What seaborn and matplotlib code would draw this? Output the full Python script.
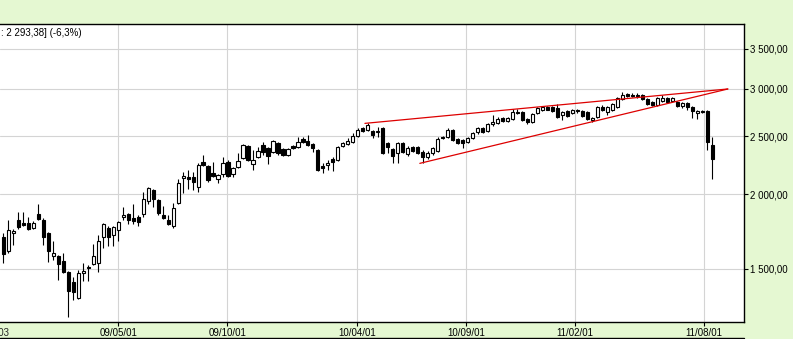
import numpy as np
import pandas as pd
import matplotlib
matplotlib.use("Agg")
import matplotlib.pyplot as plt
import matplotlib.dates as mdates
from matplotlib.lines import Line2D
from matplotlib.ticker import FixedLocator, FixedFormatter, NullLocator
import seaborn as sns

# ---------------- data (weekly candles) ----------------
first_week = "2008-11-21"
opens = [1696,1608,1723,1812,1791,1791,1756,1854,1812,1723,
         1577,1577,1547,1483,1427,1341,1477,1506,1529,1535,
         1696,1756,1709,1743,1833,1854,1826,1833,1854,1948,
         2033,1956,1847,1812,1770,1934,2128,2137,2137,2056,
         2264,2229,2170,2121,2162,2264,2162,2220,2300,2408,
         2247,2309,2417,2391,2354,2437,2380,2327,2408,2398,
         2475,2456,2427,2372,2229,2238,2291,2282,2408,2427,
         2446,2505,2582,2562,2552,2542,2582,2437,2380,2345,
         2437,2336,2398,2398,2354,2309,2345,2363,2495,2495,
         2562,2475,2465,2446,2485,2542,2582,2552,2621,2631,
         2683,2651,2672,2746,2746,2672,2641,2735,2767,2799,
         2799,2788,2714,2757,2735,2767,2757,2746,2662,2693,
         2798,2746,2767,2798,2885,2942,2931,2931,2931,2885,
         2854,2820,2865,2896,2865,2854,2809,2843,2798,2735,
         2757,2757,2417]
highs = [1723,1812,1749,1869,1869,1833,1805,1926,1826,1729,
         1670,1583,1595,1488,1454,1494,1535,1523,1651,1709,
         1791,1770,1770,1805,1904,1862,1926,1847,2017,2056,
         2040,1964,1911,1847,1934,2121,2179,2196,2179,2256,
         2326,2238,2264,2162,2308,2282,2220,2345,2427,2417,
         2372,2398,2446,2398,2465,2446,2389,2389,2417,2495,
         2495,2515,2437,2380,2256,2282,2309,2408,2446,2485,
         2532,2582,2592,2631,2562,2592,2592,2446,2389,2446,
         2446,2408,2408,2408,2372,2363,2398,2495,2505,2582,
         2572,2485,2475,2495,2542,2592,2592,2631,2714,2693,
         2693,2693,2778,2778,2757,2683,2735,2799,2810,2810,
         2810,2832,2757,2767,2778,2778,2767,2757,2693,2809,
         2820,2809,2843,2908,2965,2954,2954,2954,2942,2896,
         2865,2908,2931,2908,2908,2865,2854,2854,2809,2767,
         2767,2767,2495]
lows = [1535,1595,1645,1749,1770,1743,1749,1812,1645,1541,
        1553,1438,1477,1247,1331,1336,1432,1432,1523,1483,
        1626,1638,1638,1670,1812,1784,1784,1770,1833,1926,
        1904,1847,1819,1777,1756,1926,2010,2040,2033,2017,
        2229,2097,2137,2089,2137,2137,2137,2212,2291,2273,
        2196,2300,2327,2247,2345,2327,2318,2318,2380,2389,
        2437,2408,2354,2188,2170,2196,2188,2273,2398,2417,
        2437,2495,2542,2552,2485,2495,2336,2345,2256,2256,
        2345,2318,2354,2336,2256,2291,2327,2354,2475,2485,
        2456,2427,2389,2437,2475,2522,2532,2542,2601,2621,
        2641,2641,2662,2725,2651,2621,2631,2725,2757,2767,
        2746,2683,2662,2693,2725,2735,2693,2662,2641,2683,
        2757,2714,2757,2788,2876,2908,2908,2896,2876,2820,
        2809,2809,2854,2843,2854,2798,2788,2767,2683,2672,
        2735,2372,2121]
closes = [1589,1743,1736,1763,1777,1749,1791,1819,1696,1608,
          1595,1529,1483,1378,1372,1477,1488,1511,1577,1670,
          1784,1696,1763,1798,1847,1812,1805,1798,1964,2048,
          1964,1862,1826,1784,1898,2089,2145,2121,2097,2238,
          2238,2113,2145,2153,2256,2145,2212,2273,2417,2282,
          2282,2363,2354,2318,2456,2345,2327,2380,2389,2446,
          2446,2417,2389,2196,2212,2256,2264,2398,2437,2456,
          2505,2562,2552,2611,2515,2552,2345,2398,2318,2437,
          2354,2389,2363,2345,2309,2345,2389,2475,2485,2562,
          2465,2437,2437,2485,2532,2582,2542,2621,2641,2672,
          2651,2683,2746,2735,2662,2641,2725,2788,2799,2772,
          2757,2693,2746,2704,2767,2757,2704,2672,2683,2798,
          2767,2798,2832,2896,2931,2919,2919,2919,2885,2832,
          2820,2896,2896,2854,2896,2809,2843,2798,2757,2757,
          2741,2446,2293.38]

# trend lines (dates, prices)
upper_dates = ["2010-04-12", "2011-09-03"]
upper_prices = [2628, 3000]
lower_dates = ["2010-06-28", "2011-09-03"]
lower_prices = [2253, 3000]

ytick_values = [1500, 2000, 2500, 3000, 3500]
ytick_labels = ["1 500,00", "2 000,00", "2 500,00", "3 000,00", "3 500,00"]
xtick_dates = ["2009-05-01", "2009-10-01", "2010-04-01", "2010-09-01", "2011-02-01", "2011-08-01"]
xtick_labels = ["09/05/01", "09/10/01", "10/04/01", "10/09/01", "11/02/01", "11/08/01"]
hidden_tick_date = "2008-11-03"
hidden_tick_label = "08/11/03"
header_text = ": 2 293,38] (-6,3%)"

# ---------------- style ----------------
sns.set_theme(style="white")
plt.rcParams['font.family'] = ['Liberation Sans', 'DejaVu Sans']
BG = "#e5f8d2"

fig = plt.figure(figsize=(7.93, 3.39), dpi=100, facecolor=BG)
ax = fig.add_axes([0.0, 17 / 339, 744 / 793, 298 / 339])
ax.set_facecolor("white")

df = pd.DataFrame({
    "date": pd.date_range(first_week, periods=len(closes), freq="W-FRI"),
    "open": opens, "high": highs, "low": lows, "close": closes,
})
xd = mdates.date2num(df["date"])
o = df["open"].to_numpy(float)
c = df["close"].to_numpy(float)
up = c >= o

# wicks
ax.vlines(xd, df["low"], df["high"], color="black", lw=0.8, zorder=3)
# bodies
bottoms = np.minimum(o, c)
heights = np.abs(c - o)
faces = np.where(up, "white", "black")
ax.bar(xd, heights, bottom=bottoms, width=4.5, color=faces, edgecolor="black",
       linewidth=0.8, zorder=4, align="center")

# trend lines via seaborn
tr_up = pd.DataFrame({"x": mdates.date2num(pd.to_datetime(upper_dates)), "y": upper_prices})
tr_lo = pd.DataFrame({"x": mdates.date2num(pd.to_datetime(lower_dates)), "y": lower_prices})
sns.lineplot(data=tr_up, x="x", y="y", color="#dd0000", lw=0.9, ax=ax, zorder=5)
sns.lineplot(data=tr_lo, x="x", y="y", color="#dd0000", lw=0.9, ax=ax, zorder=5)

# axes
ax.set_yscale("log")
ax.set_ylim(1223, 3853)
ax.set_xlim(mdates.date2num(pd.Timestamp("2008-11-16 03:00")),
            mdates.date2num(pd.Timestamp("2011-09-25 17:00")))
ax.set_xlabel("")
ax.set_ylabel("")

ax.yaxis.set_major_locator(FixedLocator(ytick_values))
ax.yaxis.set_major_formatter(FixedFormatter(ytick_labels))
ax.yaxis.set_minor_locator(NullLocator())
ax.yaxis.tick_right()

xt = mdates.date2num(pd.to_datetime(xtick_dates))
ax.xaxis.set_major_locator(FixedLocator(xt))
ax.xaxis.set_major_formatter(FixedFormatter(xtick_labels))
ax.xaxis.set_minor_locator(NullLocator())

ax.tick_params(axis="y", which="major", direction="out", length=3, width=0.8,
               pad=1.5, labelsize=7, colors="black", right=True, left=False,
               labelright=True, labelleft=False)
ax.tick_params(axis="x", which="major", direction="out", length=3, width=0.8,
               pad=1, labelsize=7, colors="black", bottom=True)

ax.grid(True, color="#d4d4d4", lw=0.8)
ax.set_axisbelow(True)

for side in ["top", "right", "bottom"]:
    ax.spines[side].set_visible(True)
    ax.spines[side].set_color("black")
    ax.spines[side].set_linewidth(1.0)
ax.spines["left"].set_visible(False)

# partially visible tick label at the left edge
ax.annotate(hidden_tick_label,
            xy=(mdates.date2num(pd.Timestamp(hidden_tick_date)), 0),
            xycoords=("data", "axes fraction"), xytext=(0, -4),
            textcoords="offset points", ha="center", va="top", fontsize=7,
            annotation_clip=False)

# header text
ax.text(0.0013, (322 - 33.5) / 298, header_text, transform=ax.transAxes,
        fontsize=7, ha="left", va="center", color="black")

# bottom border of the date strip
fig.add_artist(Line2D([0, 744 / 793], [1.2 / 339, 1.2 / 339], color="black",
                      lw=1.0, transform=fig.transFigure))

fig.savefig("out.png", dpi=100, facecolor=BG)
